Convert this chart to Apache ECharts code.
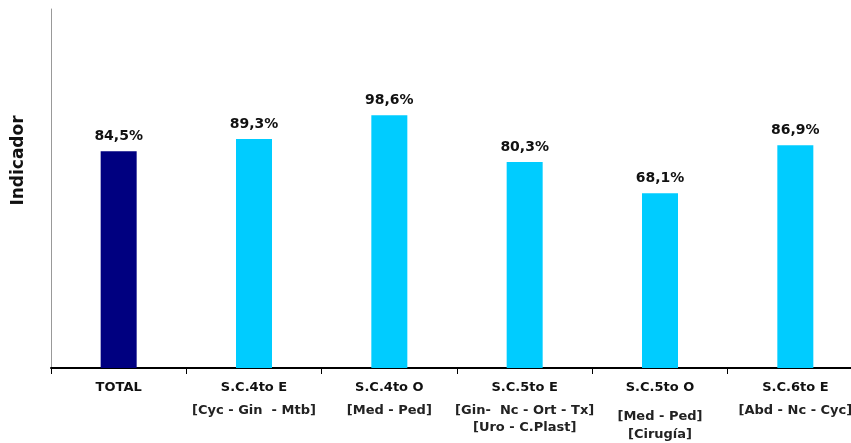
<!DOCTYPE html>
<html>
<head>
<meta charset="utf-8">
<script src="https://cdn.jsdelivr.net/npm/echarts@6/dist/echarts.min.js"></script>
<style>
  html, body { margin: 0; padding: 0; background: #fff; }
  #chart { width: 851px; height: 443px; }
</style>
</head>
<body>
<div id="chart"></div>
<script>
// datos del grafico
var categorias = ['TOTAL', 'S.C.4to E', 'S.C.4to O', 'S.C.5to E', 'S.C.5to O', 'S.C.6to E'];
var subtitulos = [
  [],
  ['[Cyc - Gin  - Mtb]'],
  ['[Med - Ped]'],
  ['[Gin-  Nc - Ort - Tx]', '[Uro - C.Plast]'],
  ['[Med - Ped]', '[Cirugía]'],
  ['[Abd - Nc - Cyc]']
];
var valores = [84.5, 89.3, 98.6, 80.3, 68.1, 86.9];
var colores = ['#000080', '#00CCFF', '#00CCFF', '#00CCFF', '#00CCFF', '#00CCFF'];

var chart = echarts.init(document.getElementById('chart'));

var fuente = { fontSize: 13, fontWeight: 'bold', fontFamily: 'DejaVu Sans' };
function estiloLinea(lh, color) {
  return Object.assign({ lineHeight: lh, color: color }, fuente);
}

var option = {
  animation: false,
  textStyle: { fontFamily: 'DejaVu Sans' },
  // el eje sigue mas alla del borde derecho (imagen recortada)
  grid: { left: 51, width: 812, top: 9, bottom: 75, outerBoundsMode: 'none', containLabel: false },
  xAxis: {
    type: 'category',
    data: categorias,
    axisLine: { lineStyle: { color: '#000', width: 2 } },
    axisTick: { show: true, length: 6, lineStyle: { color: '#000', width: 1 } },
    axisLabel: {
      interval: 0,
      margin: 2,
      formatter: function (val, idx) {
        var s = '{a|' + val + '}';
        var sub = subtitulos[idx];
        // el quinto grupo va un poco mas abajo
        var est = idx === 4 ? ['d', 'e'] : ['b', 'c'];
        for (var i = 0; i < sub.length; i++) {
          s += '\n{' + est[i] + '|' + sub[i] + '}';
        }
        return s;
      },
      rich: {
        a: estiloLinea(36, '#111'),
        b: estiloLinea(10, '#222'),
        c: estiloLinea(24, '#222'),
        d: estiloLinea(21, '#222'),
        e: estiloLinea(15, '#222')
      }
    }
  },
  yAxis: {
    type: 'value',
    min: 0,
    max: 140,
    name: 'Indicador',
    nameLocation: 'middle',
    nameGap: 24,
    nameTextStyle: {
      fontSize: 17,
      fontWeight: 'bold',
      color: '#111',
      fontFamily: 'DejaVu Sans',
      padding: [0, 0, 0, 56]
    },
    axisLine: { show: true, lineStyle: { color: '#999', width: 1 } },
    axisTick: { show: false },
    axisLabel: { show: false },
    splitLine: { show: false }
  },
  series: [{
    type: 'bar',
    barWidth: 36,
    data: valores.map(function (v, i) {
      return { value: v, itemStyle: { color: colores[i] } };
    }),
    label: {
      show: true,
      position: 'top',
      distance: 8,
      fontSize: 14,
      fontWeight: 'bold',
      color: '#111',
      fontFamily: 'DejaVu Sans',
      formatter: function (p) {
        return p.value.toFixed(1).replace('.', ',') + '%';
      }
    }
  }]
};

chart.setOption(option);
</script>
</body>
</html>
